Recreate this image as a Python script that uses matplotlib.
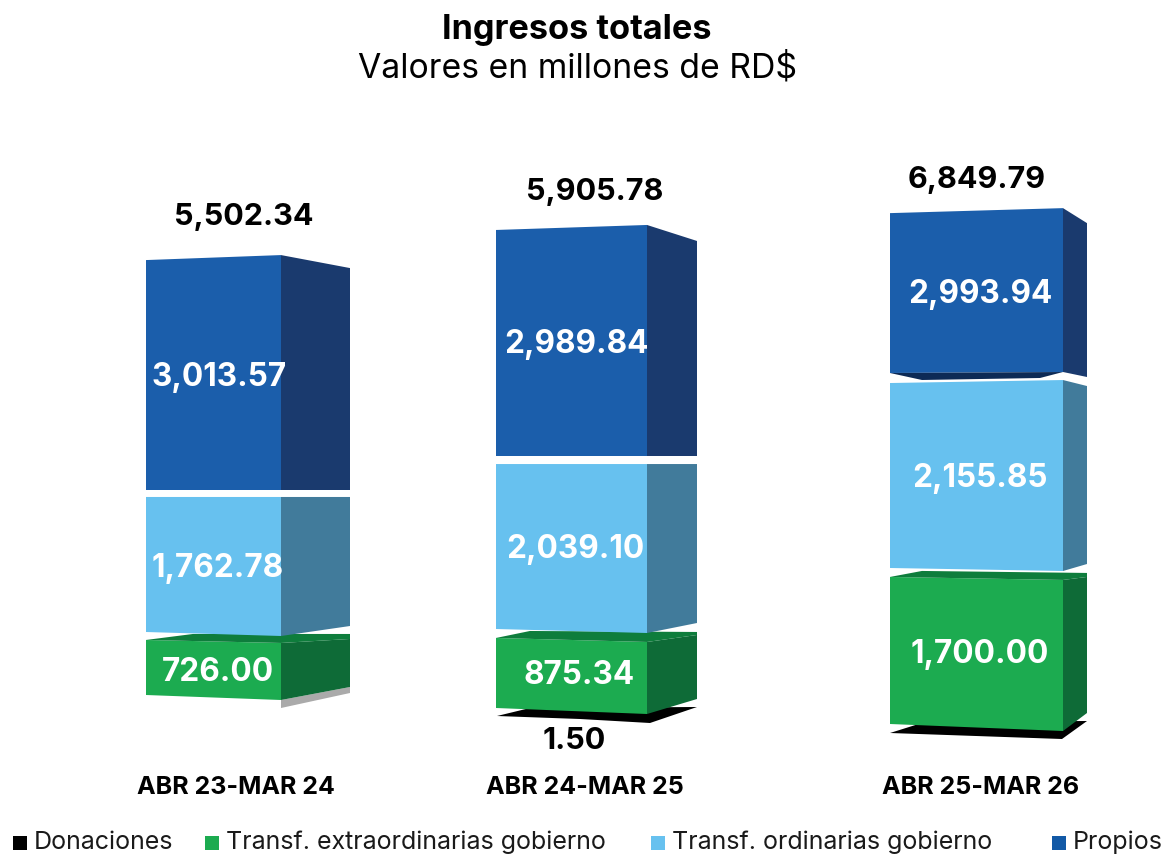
import matplotlib
matplotlib.use('Agg')
import matplotlib.pyplot as plt

# datos (millones de RD$)
periodos = ['ABR 23-MAR 24', 'ABR 24-MAR 25', 'ABR 25-MAR 26']
totales = [5502.34, 5905.78, 6849.79]
donaciones = [0, 1.50, 0]
extraordinarias = [726.00, 875.34, 1700.00]
ordinarias = [1762.78, 2039.10, 2155.85]
propios = [3013.57, 2989.84, 2993.94]

series_nombres = ['Donaciones', 'Transf. extraordinarias gobierno', 'Transf. ordinarias gobierno', 'Propios']

# colores: frente, lateral
color_propios = ('#1b5eab', '#1a3a6e')
color_ordinarias = ('#67c1ef', '#417b9b')
color_extra = ('#1cab50', '#0e6b37')
color_tapa = '#0e7d3c'
color_leyenda = ['#000000', '#1cab50', '#67c1ef', '#1259a6']

FUENTE = 'Inter'

# geometria de cada barra: izquierda, frente derecha, lateral derecha
xs = [(146, 281, 350), (496, 647, 697), (890, 1063, 1087)]
# el grafico original no esta a escala entre barras: px por millon
escala = [
    {'e': 0.0758, 'o': 0.0766, 'p': 0.0763},
    {'e': 0.0800, 'o': 0.0809, 'p': 0.0756},
    {'e': 0.0865, 'o': 0.0858, 'p': 0.0534},
]
# base del frente y perspectiva: (base, dt, db, st, sb)
forma = [
    {'e': (695, 3, 5, -4, -13), 'o': (632, 0, 4, 0, -10), 'p': (490, -5, 0, 13, 0)},
    {'e': (708, 4, 6, -7, -15), 'o': (629, 0, 4, 0, -10), 'p': (456, -5, 0, 16, 0)},
    {'e': (724, 3, 7, -3, -18), 'o': (568, -3, 3, 6, -7), 'p': (373, -5, -1, 15, 5)},
]
tapa_x = [193, 530, 922]
tapa_dy = [(-6, -6), (-7, -6), (-6, -4)]
sombras = [
    ('#aaaaaa', [(281, 700), (350, 687), (350, 693), (281, 708)]),
    ('#000000', [(497, 716), (530, 708), (697, 707), (650, 723), (580, 719)]),
    ('#000000', [(890, 733), (925, 722), (1087, 721), (1062, 739)]),
]

pos_total = [(244, 217), (595, 192), (977, 180)]
pos_periodo = [236, 585, 981]
pos_etiqueta = {
    'p': [(219, 377), (576, 344), (980, 294)],
    'o': [(218, 568), (575, 549), (980, 478)],
    'e': [(218, 672), (579, 675), (980, 654)],
}

fig = plt.figure(figsize=(11.66, 8.55), dpi=100)
ax = fig.add_axes([0, 0, 1, 1])
ax.set_xlim(0, 1166)
ax.set_ylim(855, 0)
ax.axis('off')


def bloque(i, clave, valor, colores):
    x0, x1, x2 = xs[i]
    base, dt, db, st, sb = forma[i][clave]
    arriba = base - valor * escala[i][clave]
    ax.fill([x0, x1, x1, x0], [arriba, arriba + dt, base + db, base], color=colores[0], lw=0)
    ax.fill([x1, x2, x2, x1],
            [arriba + dt, arriba + dt + st, base + db + sb, base + db],
            color=colores[1], lw=0)
    return arriba, dt, st


for i in range(3):
    color_s, puntos = sombras[i]
    ax.fill([p[0] for p in puntos], [p[1] for p in puntos], color=color_s, lw=0)

    arriba, dt, st = bloque(i, 'e', extraordinarias[i], color_extra)
    x0, x1, x2 = xs[i]
    ax.fill([x0, tapa_x[i], x2, x2, x1],
            [arriba, arriba + tapa_dy[i][0], arriba + tapa_dy[i][1], arriba + dt + st, arriba + dt],
            color=color_tapa, lw=0)
    bloque(i, 'o', ordinarias[i], color_ordinarias)
    bloque(i, 'p', propios[i], color_propios)

# cara inferior de propios en la tercera barra
ax.fill([890, 922, 1040, 1063], [373, 380, 378, 372], color='#0d2a55', lw=0)


def txt(x, y, s, size, color='black', weight='bold'):
    ax.text(x, y, s, fontsize=size, color=color, fontweight=weight, family=FUENTE,
            ha='center', va='center')


for i in range(3):
    txt(pos_total[i][0], pos_total[i][1], f'{totales[i]:,.2f}', 22)
    txt(pos_periodo[i], 787, periodos[i], 18)
    txt(pos_etiqueta['p'][i][0], pos_etiqueta['p'][i][1], f'{propios[i]:,.2f}', 22.7, 'white')
    txt(pos_etiqueta['o'][i][0], pos_etiqueta['o'][i][1], f'{ordinarias[i]:,.2f}', 22.7, 'white')
    txt(pos_etiqueta['e'][i][0], pos_etiqueta['e'][i][1], f'{extraordinarias[i]:,.2f}', 22.7, 'white')

txt(574, 741, f'{donaciones[1]:.2f}', 22)

txt(577, 30, 'Ingresos totales', 24.7)
txt(577, 68, 'Valores en millones de RD$', 24.3, weight='normal')

# leyenda a mano porque los espacios no son regulares
ley_x = [13, 205, 651, 1052]
for nx, nombre, c in zip(ley_x, series_nombres, color_leyenda):
    ax.fill([nx, nx + 14, nx + 14, nx], [836, 836, 850, 850], color=c, lw=0)
    ax.text(nx + 21, 842, nombre, fontsize=18, color='#1a1a1a', family=FUENTE, ha='left', va='center')

plt.savefig('out.png', dpi=100)
